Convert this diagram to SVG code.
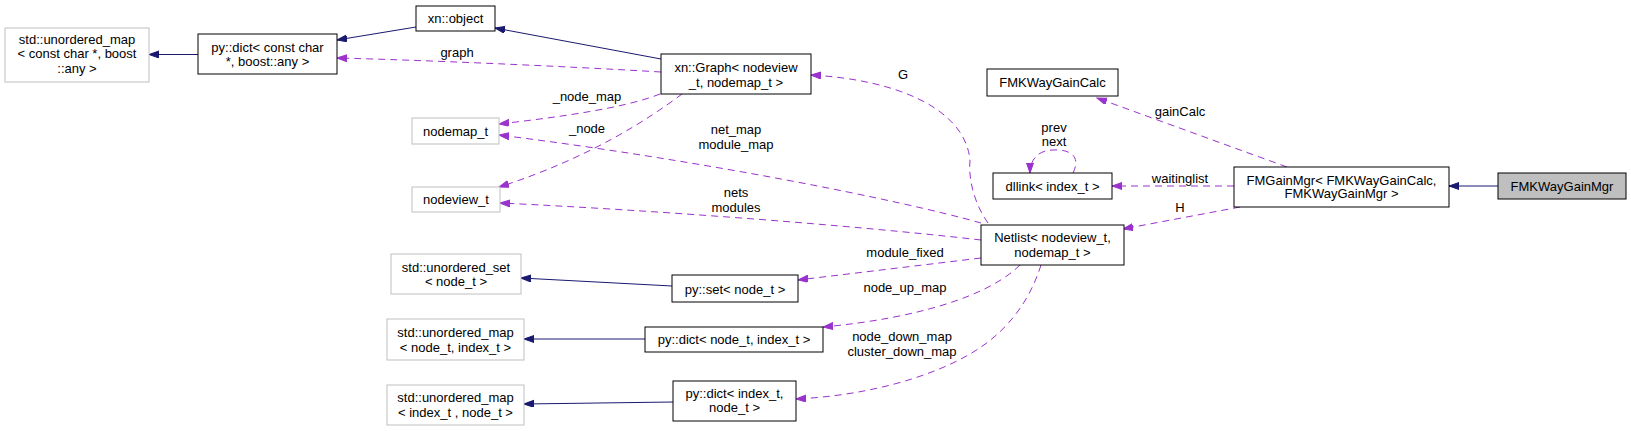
<svg xmlns="http://www.w3.org/2000/svg" width="1631" height="431" viewBox="0 0 1631 431">
<defs>
<style>
text{font-family:"Liberation Sans",Arial,sans-serif;font-size:13px;fill:#000;text-anchor:middle}
.b{fill:#fff;stroke:#000;stroke-width:1}
.g{fill:#fff;stroke:#bfbfbf;stroke-width:1}
.cur{fill:#bfbfbf;stroke:#000;stroke-width:1}
.inh{fill:none;stroke:#191970;stroke-width:1;marker-end:url(#an)}
.use{fill:none;stroke:#9a32cd;stroke-width:1;stroke-dasharray:7,5;marker-end:url(#ap)}
</style>
<marker id="an" markerWidth="11" markerHeight="8" refX="10" refY="3.5" orient="auto" markerUnits="userSpaceOnUse"><path d="M0,0 L10,3.5 L0,7 z" fill="#191970" stroke="#191970"/></marker>
<marker id="ap" markerWidth="11" markerHeight="8" refX="10" refY="3.5" orient="auto" markerUnits="userSpaceOnUse"><path d="M0,0 L10,3.5 L0,7 z" fill="#9a32cd" stroke="#9a32cd"/></marker>
</defs>
<rect width="1631" height="431" fill="#fff"/>
<g id="connectors">
<path class="inh" d="M1498,186 L1449,186"/>
<path class="inh" d="M416,27 L337,40"/>
<path class="inh" d="M661,59 L495,28"/>
<path class="inh" d="M198,54.5 L149,54.5"/>
<path class="inh" d="M672,286 L521,278"/>
<path class="inh" d="M645,339 L524,339"/>
<path class="inh" d="M673,402 L524,404"/>
<path class="use" d="M661,72 C560,66 420,60 337,58"/>
<text x="457" y="56.5">graph</text>
<path class="use" d="M660,94 C625,108 560,117 499,124"/>
<text x="587" y="100.5">_node_map</text>
<path class="use" d="M682,94 C650,118 590,158 499,187"/>
<text x="587" y="132.5">_node</text>
<path class="use" d="M988,223 C975,205 968,180 970,160 C965,110 900,80 811,75"/>
<text x="903" y="78.5">G</text>
<path class="use" d="M981,223 C900,200 700,160 499,135"/>
<text x="736" y="133.5">net_map</text>
<text x="736" y="148.5">module_map</text>
<path class="use" d="M981,240 C850,225 650,210 500,203"/>
<text x="736" y="196.5">nets</text>
<text x="736" y="211.5">modules</text>
<path class="use" d="M981,258 L798,280"/>
<text x="905" y="256.5">module_fixed</text>
<path class="use" d="M1020,265 C990,295 920,318 823,327"/>
<text x="905" y="291.5">node_up_map</text>
<path class="use" d="M1041,265 C1030,300 1008,332 970,354 C925,380 860,396 796,399"/>
<text x="902" y="340.5">node_down_map</text>
<text x="902" y="355.5">cluster_down_map</text>
<path class="use" d="M1287,167 L1097,98"/>
<text x="1180" y="115.5">gainCalc</text>
<path class="use" d="M1234,186 L1112,186"/>
<text x="1180" y="182.5">waitinglist</text>
<path class="use" d="M1240,207 L1123,229"/>
<text x="1180" y="211.5">H</text>
<path class="use" d="M1073,173 C1082,155 1068,149 1053,150 C1040,150 1030,158 1030,173"/>
<text x="1054" y="131.5">prev</text>
<text x="1054" y="145.5">next</text>
</g>
<g id="n_fmkwaygainmgr"><rect class="cur" x="1498" y="173" width="128" height="26"/><text x="1562" y="190.5">FMKWayGainMgr</text></g>
<g id="n_fmgainmgr"><rect class="b" x="1234" y="167" width="215" height="40"/><text x="1341.5" y="184.5">FMGainMgr&lt; FMKWayGainCalc,</text><text x="1341.5" y="198">FMKWayGainMgr &gt;</text></g>
<g id="n_fmkwaygaincalc"><rect class="b" x="987" y="69" width="131" height="27"/><text x="1052.5" y="87">FMKWayGainCalc</text></g>
<g id="n_dllink"><rect class="b" x="993" y="173" width="119" height="26"/><text x="1052.5" y="191">dllink&lt; index_t &gt;</text></g>
<g id="n_netlist"><rect class="b" x="981" y="225" width="143" height="40"/><text x="1052.5" y="241.5">Netlist&lt; nodeview_t,</text><text x="1052.5" y="256.5">nodemap_t &gt;</text></g>
<g id="n_graph"><rect class="b" x="661" y="54" width="150" height="40"/><text x="736" y="71.5">xn::Graph&lt; nodeview</text><text x="736" y="86.5">_t, nodemap_t &gt;</text></g>
<g id="n_object"><rect class="b" x="416" y="6" width="79" height="25"/><text x="455.5" y="22.5">xn::object</text></g>
<g id="n_pydict_cc"><rect class="b" x="198" y="34" width="139" height="40"/><text x="267.5" y="51.5">py::dict&lt; const char</text><text x="267.5" y="65.5"> *, boost::any &gt;</text></g>
<g id="n_umap_cc"><rect class="g" x="5" y="28" width="144" height="54"/><text x="77" y="43.5">std::unordered_map</text><text x="77" y="57.5">&lt; const char *, boost</text><text x="77" y="73">::any &gt;</text></g>
<g id="n_nodemap"><rect class="g" x="412" y="118" width="87" height="26"/><text x="455.5" y="135.5">nodemap_t</text></g>
<g id="n_nodeview"><rect class="g" x="412" y="187" width="88" height="25"/><text x="456" y="203.5">nodeview_t</text></g>
<g id="n_uset"><rect class="g" x="391" y="254" width="130" height="40"/><text x="456" y="271.5">std::unordered_set</text><text x="456" y="285.5">&lt; node_t &gt;</text></g>
<g id="n_pyset"><rect class="b" x="672" y="275" width="126" height="27"/><text x="735" y="293.5">py::set&lt; node_t &gt;</text></g>
<g id="n_umap_ni"><rect class="g" x="387" y="319" width="137" height="41"/><text x="455.5" y="336.5">std::unordered_map</text><text x="455.5" y="351.5">&lt; node_t, index_t &gt;</text></g>
<g id="n_pydict_ni"><rect class="b" x="645" y="327" width="178" height="25"/><text x="734" y="343.5">py::dict&lt; node_t, index_t &gt;</text></g>
<g id="n_umap_in"><rect class="g" x="387" y="385" width="137" height="40"/><text x="455.5" y="401.5">std::unordered_map</text><text x="455.5" y="416.5">&lt; index_t , node_t &gt;</text></g>
<g id="n_pydict_in"><rect class="b" x="673" y="381" width="123" height="40"/><text x="734.5" y="397.5">py::dict&lt; index_t,</text><text x="734.5" y="411.5">node_t &gt;</text></g>
</svg>
